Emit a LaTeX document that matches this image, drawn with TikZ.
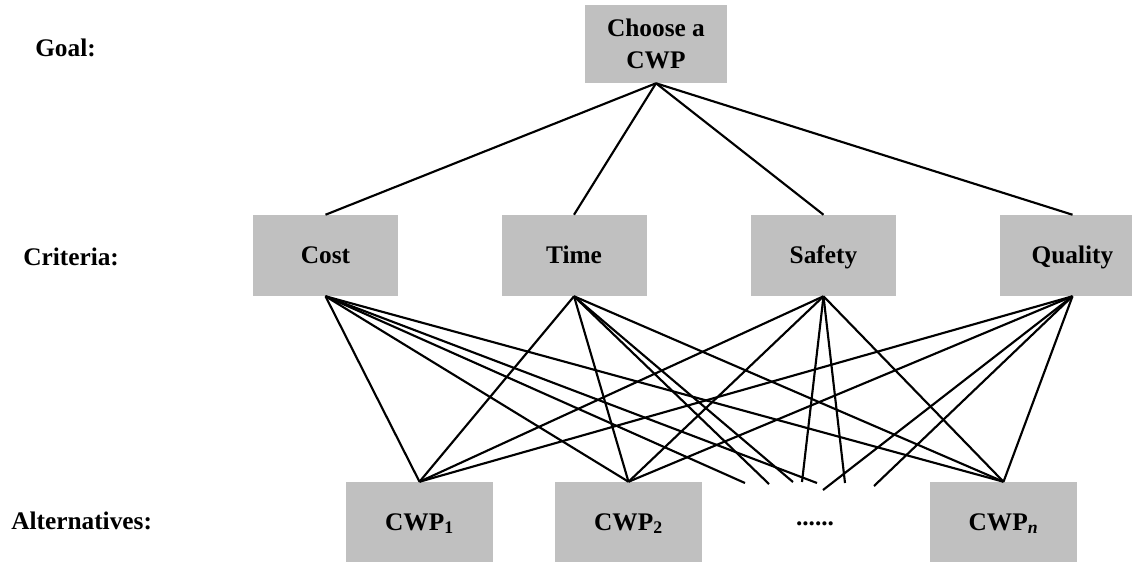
\documentclass[tikz,border=0pt]{standalone}
\usepackage{fontspec}
\setmainfont{Liberation Serif}
\definecolor{boxgray}{HTML}{C0C0C0}
\begin{document}
\begin{tikzpicture}[x=0.75pt,y=-0.75pt,
  lvl/.style={font=\fontsize{19}{24}\selectfont\bfseries, anchor=west, inner sep=0pt},
  basebox/.style={fill=boxgray, draw=none, inner sep=0pt, align=center,
    font=\fontsize{19}{24}\selectfont\bfseries},
  critbox/.style={basebox, text height=12pt, text depth=0pt,
    minimum width=108.75pt, minimum height=60.75pt},
  goalbox/.style={basebox, minimum width=106.5pt, minimum height=58.5pt},
  altbox/.style={critbox, minimum width=110pt, minimum height=60pt},
  link/.style={line width=1.6pt, black}]
\clip (0,0) rectangle (1132,562);
\fill[white] (0,0) rectangle (1132,562);

% level labels
\node[lvl] (lgoal) at (35,48) {Goal:};
\node[lvl] (lcrit) at (23,257) {Criteria:};
\node[lvl] (lalt) at (11,521) {Alternatives:};

% goal
\node[goalbox] (goal) at (656,44) {Choose a\\CWP};

% criteria
\node[critbox] (cost) at (325.5,255.5) {Cost};
\node[critbox] (time) at (574,255.5) {Time};
\node[critbox] (safety) at (823.5,255.5) {Safety};
\node[critbox] (quality) at (1072.5,255.5) {Quality};

% alternatives
\node[altbox] (a1) at (419.5,522) {CWP\textsubscript{1}};
\node[altbox] (a2) at (628.5,522) {CWP\textsubscript{2}};
\node[altbox] (an) at (1003.5,522) {CWP\textsubscript{\textit{n}}};
\node[font=\fontsize{19}{24}\selectfont\bfseries, inner sep=0pt] (dots) at (815,524) {......};

% free ends of lines towards the omitted alternatives
\coordinate (d1) at (745,483);
\coordinate (d2) at (769,484);
\coordinate (d3) at (793,482);
\coordinate (d4) at (802,482);
\coordinate (d5) at (817,483);
\coordinate (d6) at (823,490);
\coordinate (d7) at (845,483);
\coordinate (d8) at (874,486);

% goal to criteria
\foreach \c in {cost,time,safety,quality}
  \draw[link] (goal.south) -- (\c.north);

% criteria to alternatives
\foreach \c in {cost,time,safety,quality}
  \foreach \a in {a1,a2,an}
    \draw[link] (\c.south) -- (\a.north);

\draw[link] (cost.south) -- (d1);
\draw[link] (cost.south) -- (d5);
\draw[link] (time.south) -- (d2);
\draw[link] (time.south) -- (d3);
\draw[link] (safety.south) -- (d4);
\draw[link] (safety.south) -- (d7);
\draw[link] (quality.south) -- (d6);
\draw[link] (quality.south) -- (d8);
\end{tikzpicture}
\end{document}
